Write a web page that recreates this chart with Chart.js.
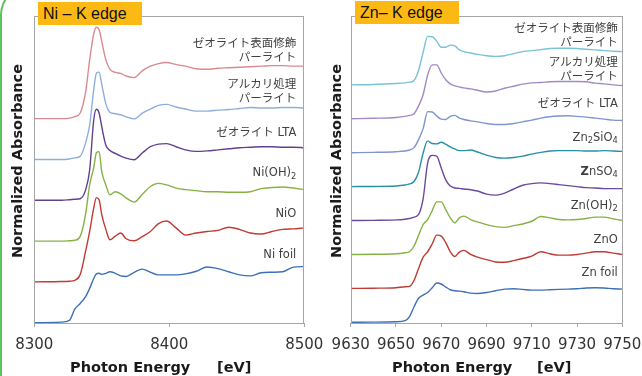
<!DOCTYPE html>
<html>
<head>
<meta charset="utf-8">
<script src="https://cdn.jsdelivr.net/npm/chart.js@4.4.0/dist/chart.umd.min.js"></script>
<style>
  body { margin: 0; width: 642px; height: 376px; overflow: hidden; background: #fff; position: relative; font-family: "DejaVu Sans", sans-serif; }
  .panel { position: absolute; top: 0; height: 376px; }
  .tag { position: absolute; height: 23px; width: 104px; background: #fdb913; color: #111;
         font: 16px "Liberation Sans", Arial, sans-serif; line-height: 23px; padding-left: 5px; box-sizing: border-box; }
  .ytitle { position: absolute; font-weight: bold; font-size: 14.5px; color: #1a1a1a; white-space: nowrap;
            transform: translate(-50%, -50%) rotate(-90deg); }
  .xtitle { position: absolute; top: 360px; font-weight: bold; font-size: 14.5px; line-height: 14px; color: #1a1a1a; white-space: nowrap; }
  #edge { position: absolute; left: 0; top: -15px; width: 80px; height: 420px; box-sizing: border-box;
          border-left: 2px solid #5cc25c; border-top: 2px solid #5cc25c; border-top-left-radius: 30px; }
</style>
</head>
<body>
<div id="edge"></div>
<div class="panel" style="left:0;width:330px"><canvas id="niChart"></canvas></div>
<div class="panel" style="left:325px;width:317px"><canvas id="znChart"></canvas></div>
<div class="tag" style="left:38px;top:2px">Ni – K edge</div>
<div class="tag" style="left:355px;top:1px">Zn– K edge</div>
<div class="ytitle" style="left:17px;top:161px">Normalized Absorbance</div>
<div class="ytitle" style="left:336px;top:161px">Normalized Absorbance</div>
<div class="xtitle" style="left:70px">Photon Energy</div>
<div class="xtitle" style="left:217px">[eV]</div>
<div class="xtitle" style="left:392px">Photon Energy</div>
<div class="xtitle" style="left:537px">[eV]</div>
<script>
// Ni K-edge (normalized, each curve starts from 0 before the edge)
const niEnergy = [8300, 8320, 8326, 8330, 8334, 8338, 8341, 8344, 8346, 8348, 8350, 8353, 8356, 8360, 8364, 8368, 8374,
  8380, 8386, 8392, 8398, 8405, 8412, 8420, 8428, 8436, 8444, 8452, 8460, 8468, 8476, 8484, 8492, 8500]
const niFoil = [0, 0.01, 0.045, 0.26, 0.37, 0.50, 0.66, 0.85, 0.94, 0.95, 0.93, 0.95, 0.98, 0.95, 0.90, 0.89, 0.97,
  1.03, 0.97, 0.92, 0.92, 0.92, 0.94, 0.99, 1.07, 1.04, 0.98, 0.92, 0.90, 0.96, 0.97, 0.98, 1.07, 1.08]
const niO = [0, 0.006, 0.013, 0.03, 0.14, 0.59, 0.97, 1.42, 1.62, 1.58, 1.29, 1.01, 0.81, 0.88, 0.94, 0.83, 0.79,
  0.87, 0.97, 1.12, 1.17, 1.04, 0.90, 0.94, 0.97, 0.99, 1.05, 1.01, 0.94, 0.92, 0.97, 1.01, 1.02, 1.04]
const niOH2 = [0, 0, 0.006, 0.015, 0.09, 0.52, 1.08, 1.41, 1.70, 1.72, 1.33, 1.08, 0.89, 0.95, 0.91, 0.83, 0.75,
  0.90, 1.05, 1.11, 1.08, 1.02, 0.99, 0.97, 0.95, 0.95, 0.94, 0.94, 0.95, 1.01, 1.03, 1.04, 1.02, 0.99]
const niLTA = [0, 0, 0.01, 0.02, 0.03, 0.20, 0.58, 1.54, 1.75, 1.68, 1.41, 1.06, 0.96, 0.90, 0.85, 0.81, 0.78,
  0.91, 1.03, 1.08, 1.09, 1.03, 0.97, 0.94, 0.95, 0.97, 0.99, 1.01, 1.02, 1.03, 1.03, 1.02, 1.02, 1.01]
const niAlkali = [0, 0, 0.01, 0.03, 0.06, 0.32, 0.66, 1.34, 1.66, 1.68, 1.44, 1.07, 0.91, 0.88, 0.86, 0.82, 0.78,
  0.89, 0.97, 1.04, 1.06, 1.01, 0.97, 0.93, 0.93, 0.95, 0.96, 0.98, 1.00, 0.99, 0.99, 1.00, 1.00, 0.99]
const niSurface = [0, 0, 0.01, 0.04, 0.11, 0.51, 1.13, 1.63, 1.76, 1.71, 1.48, 1.13, 0.95, 0.89, 0.87, 0.82, 0.79,
  0.92, 1.01, 1.06, 1.08, 1.04, 1.01, 0.96, 0.95, 0.97, 0.98, 0.99, 1.00, 1.01, 1.02, 1.02, 1.01, 1.01]
const niTicks = [8300, 8400, 8500]

// Zn K-edge
const znEnergy = [9630, 9640, 9650, 9654, 9656, 9658, 9660, 9662, 9664, 9666, 9668, 9670, 9672, 9674, 9676, 9678,
  9680, 9683, 9686, 9690, 9694, 9698, 9702, 9706, 9710, 9714, 9718, 9722, 9726, 9730, 9734, 9738, 9742, 9746, 9750]
const znFoil = [0, 0.005, 0.015, 0.05, 0.17, 0.46, 0.71, 0.80, 0.88, 1.02, 1.16, 1.13, 1.04, 0.96, 0.93, 0.92,
  0.90, 0.86, 0.85, 0.88, 0.93, 0.98, 0.99, 0.97, 0.95, 0.95, 0.96, 0.97, 0.98, 0.99, 1.01, 1.02, 1.01, 0.99, 0.98]
const znO = [0, 0.005, 0.02, 0.05, 0.06, 0.24, 0.59, 0.92, 1.08, 1.31, 1.57, 1.54, 1.35, 1.08, 0.94, 1.07,
  1.12, 1.00, 0.92, 0.85, 0.78, 0.77, 0.82, 0.88, 0.95, 1.08, 1.02, 0.98, 0.98, 1.00, 1.04, 1.08, 1.08, 1.04, 1.00]
const znOH2 = [0, 0.005, 0.02, 0.05, 0.08, 0.25, 0.57, 0.88, 1.03, 1.29, 1.55, 1.55, 1.32, 1.08, 0.93, 1.08,
  1.13, 1.03, 0.96, 0.88, 0.82, 0.80, 0.85, 0.90, 0.98, 1.12, 1.08, 1.03, 1.02, 1.03, 1.06, 1.10, 1.10, 1.05, 1.00]
const znSO4 = [0, 0.006, 0.02, 0.04, 0.06, 0.10, 0.18, 0.64, 1.70, 1.92, 1.90, 1.55, 1.20, 1.02, 0.96, 0.95,
  0.93, 0.91, 0.87, 0.78, 0.75, 0.81, 0.93, 1.04, 1.09, 1.11, 1.09, 1.06, 1.03, 1.00, 0.97, 0.96, 0.94, 0.94, 0.94]
const zn2SiO4 = [0, 0.006, 0.02, 0.05, 0.08, 0.15, 0.43, 0.99, 1.35, 1.27, 1.26, 1.31, 1.25, 1.17, 1.11, 1.06,
  1.06, 1.08, 1.02, 0.93, 0.86, 0.84, 0.86, 0.90, 0.96, 1.01, 1.05, 1.06, 1.06, 1.06, 1.05, 1.05, 1.06, 1.05, 1.04]
const znLTA = [0, 0.01, 0.03, 0.05, 0.08, 0.15, 0.39, 0.71, 1.21, 1.20, 1.08, 0.99, 0.98, 1.07, 1.10, 1.02,
  0.98, 0.94, 0.91, 0.86, 0.83, 0.83, 0.86, 0.91, 0.96, 1.02, 1.06, 1.08, 1.09, 1.07, 1.05, 1.02, 0.99, 0.96, 0.95]
const znAlkali = [0, 0.015, 0.04, 0.07, 0.10, 0.15, 0.38, 0.71, 1.29, 1.59, 1.59, 1.35, 1.15, 1.03, 0.97, 0.94,
  0.91, 0.88, 0.84, 0.79, 0.82, 0.90, 0.96, 1.02, 1.06, 1.07, 1.09, 1.10, 1.10, 1.10, 1.09, 1.05, 1.03, 1.00, 0.98]
const znSurface = [0, 0.01, 0.04, 0.06, 0.08, 0.13, 0.43, 0.96, 1.43, 1.42, 1.29, 1.11, 1.11, 1.17, 1.15, 1.03,
  0.98, 0.94, 0.90, 0.86, 0.84, 0.86, 0.92, 0.98, 1.01, 1.04, 1.07, 1.08, 1.08, 1.07, 1.05, 1.03, 1.01, 0.99, 0.98]
const znTicks = [9630, 9650, 9670, 9690, 9710, 9730, 9750]

// labels: lines of [text, kind] segments; kind: '' | 'sub' | 'b'
const niNames = [
  [[['Ni foil', '']]],
  [[['NiO', '']]],
  [[['Ni(OH)', ''], ['2', 'sub']]],
  [[['ゼオライト LTA', '']]],
  [[['アルカリ処理', '']], [['パーライト', '']]],
  [[['ゼオライト表面修飾', '']], [['パーライト', '']]],
]
const znNames = [
  [[['Zn foil', '']]],
  [[['ZnO', '']]],
  [[['Zn(OH)', ''], ['2', 'sub']]],
  [[['Z', 'b'], ['nSO', ''], ['4', 'sub']]],
  [[['Zn', ''], ['2', 'sub'], ['SiO', ''], ['4', 'sub']]],
  [[['ゼオライト LTA', '']]],
  [[['アルカリ処理', '']], [['パーライト', '']]],
  [[['ゼオライト表面修飾', '']], [['パーライト', '']]],
]

const FONT = '"DejaVu Sans", "Noto Sans CJK JP", sans-serif'

function segFont(kind, size) {
  if (kind === 'sub') return `${size * 0.72}px ${FONT}`
  if (kind === 'b') return `bold ${size}px ${FONT}`
  return `${size}px ${FONT}`
}

function drawRich(ctx, segs, xRight, y, size) {
  let total = 0
  segs.forEach(([t, k]) => { ctx.font = segFont(k, size); total += ctx.measureText(t).width })
  let x = xRight - total
  segs.forEach(([t, k]) => {
    ctx.font = segFont(k, size)
    ctx.fillText(t, x, k === 'sub' ? y + size * 0.3 : y)
    x += ctx.measureText(t).width
  })
}

const panelDecor = {
  id: 'panelDecor',
  afterDraw(chart, args, opts) {
    const { ctx, chartArea: a, scales } = chart
    ctx.save()
    ctx.strokeStyle = '#a6a6a6'
    ctx.lineWidth = 1
    ctx.strokeRect(Math.round(a.left) + 0.5, Math.round(a.top) + 0.5,
      Math.round(a.right - a.left) - 1, Math.round(a.bottom - a.top))
    ctx.fillStyle = '#404040'
    ctx.textBaseline = 'middle'
    opts.names.forEach((lines, i) => {
      const yc = scales.y.getPixelForValue(opts.offsets[i] + opts.lift)
      lines.forEach((segs, j) => {
        drawRich(ctx, segs, a.right - opts.inset, yc + (j - (lines.length - 1) / 2) * 13.5, 11.5)
      })
    })
    ctx.restore()
  },
}

function buildPanel(id, p) {
  const datasets = p.series.map((vals, i) => ({
    data: vals.map((v, k) => ({ x: p.energy[k], y: v + p.offsets[i] })),
    borderColor: p.colors[i],
    borderWidth: 1.4,
    pointRadius: 0,
    cubicInterpolationMode: 'monotone',
    fill: false,
  }))
  new Chart(document.getElementById(id), {
    type: 'line',
    data: { datasets },
    plugins: [panelDecor],
    options: {
      responsive: true,
      maintainAspectRatio: false,
      animation: false,
      layout: { padding: { left: p.padL, right: p.padR, top: 16, bottom: 0 } },
      plugins: {
        legend: { display: false },
        tooltip: { enabled: false },
        panelDecor: { names: p.names, offsets: p.offsets, lift: p.lift, inset: p.inset },
      },
      scales: {
        x: {
          type: 'linear',
          min: p.ticks[0],
          max: p.ticks[p.ticks.length - 1],
          afterBuildTicks: s => { s.ticks = p.ticks.map(v => ({ value: v })) },
          afterFit: s => { s.height = 53 },
          grid: { drawOnChartArea: false, drawTicks: true, tickLength: 4, color: '#a6a6a6' },
          border: { display: true, color: '#a6a6a6' },
          ticks: {
            autoSkip: false, maxRotation: 0, minRotation: 0, padding: 0,
            color: '#333', font: { family: 'DejaVu Sans', size: 15, lineHeight: 2.4 },
            callback: v => String(v),
          },
        },
        y: { display: false, min: p.yMin, max: p.yMax },
      },
    },
  })
}

const niStep = 0.785
buildPanel('niChart', {
  energy: niEnergy,
  series: [niFoil, niO, niOH2, niLTA, niAlkali, niSurface],
  offsets: [0, 1, 2, 3, 4, 5].map(k => k * niStep),
  colors: ['#3d71b7', '#bf3b34', '#86b244', '#60418f', '#8eaedc', '#d98a8e'],
  names: niNames,
  ticks: niTicks,
  yMin: -0.006, yMax: 5.9,
  padL: 34.3, padR: 25.7,
  lift: 1.3, inset: 8,
})

buildPanel('znChart', {
  energy: znEnergy,
  series: [znFoil, znO, znOH2, znSO4, zn2SiO4, znLTA, znAlkali, znSurface],
  offsets: [0, 1, 2, 3, 4, 5, 6, 7],
  colors: ['#3d71b7', '#bf3b34', '#86b244', '#6b4a9c', '#2691a6', '#7f95cf', '#a08bc4', '#78c3d6'],
  names: znNames,
  ticks: znTicks,
  yMin: -0.02, yMax: 9.03,
  padL: 25.7, padR: 19.7,
  lift: 1.44, inset: 4.5,
})
</script>
</body>
</html>
